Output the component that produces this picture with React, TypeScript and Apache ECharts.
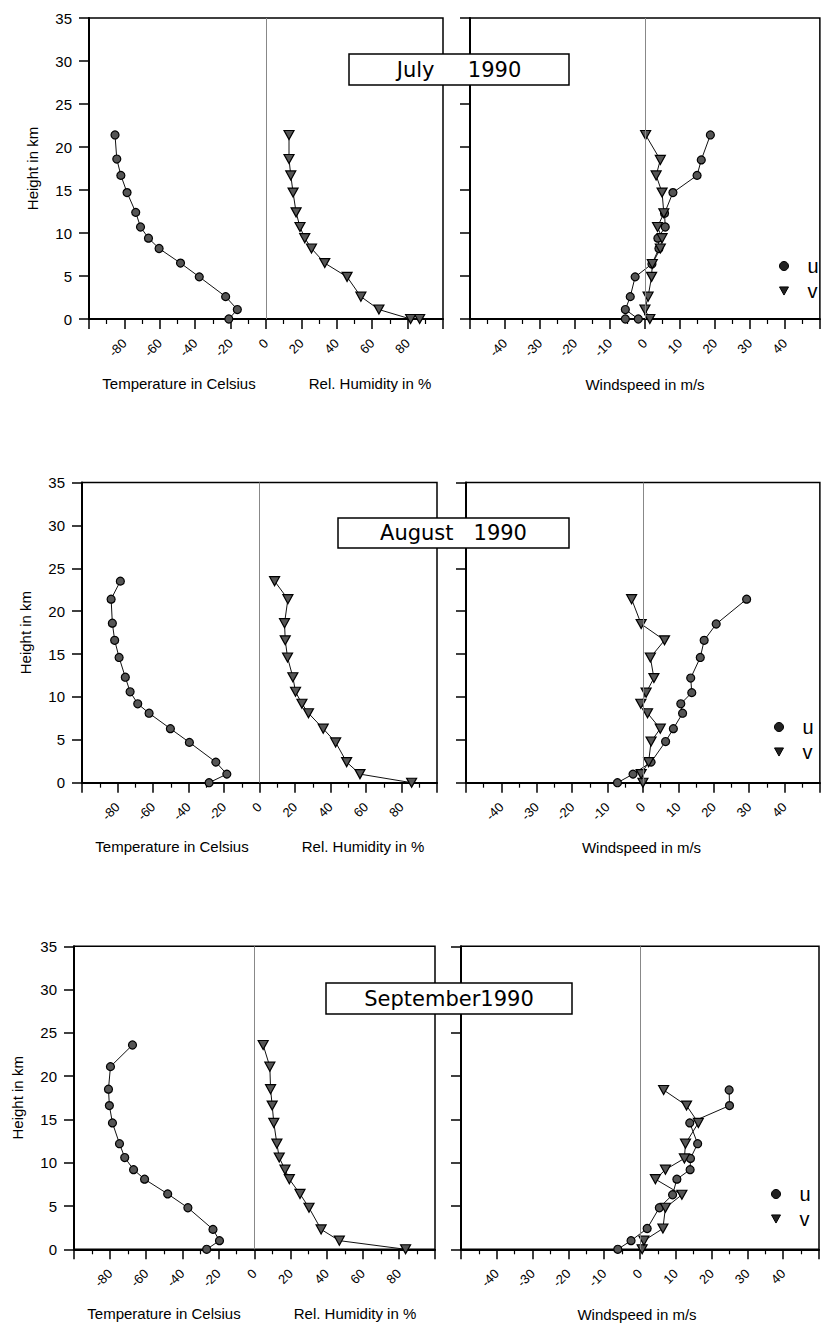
import React, { useEffect, useRef } from "react";
import * as echarts from "echarts";

// ---------- DATA ----------
const monthTitles = ["July     1990", "August   1990", "September1990"];
const tempAxisTitle = "Temperature in Celsius";
const humAxisTitle = "Rel. Humidity in %";
const windAxisTitle = "Windspeed in m/s";
const heightAxisTitle = "Height in km";
const windNames = ["u", "v"];

// July 1990
const julyHeights = [0, 1.1, 2.6, 4.9, 6.5, 8.2, 9.4, 10.7, 12.4, 14.7, 16.7, 18.6, 21.4];
const julyTemp = [-21, -16.2, -22.8, -37.7, -48.3, -60.4, -66.4, -70.9, -73.6, -78.5, -82, -84.3, -85.3];
const julyHumHeights = [0, 0, 1.1, 2.6, 4.9, 6.5, 8.2, 9.4, 10.7, 12.4, 14.7, 16.7, 18.6, 21.4];
const julyHum = [86.8, 81.7, 63.8, 53.6, 45.8, 33.2, 25.7, 21.9, 19.2, 17, 15.3, 14, 13, 13];
const julyUHeights = [0, 0, 1.1, 2.6, 4.9, 6.4, 8.2, 9.4, 10.7, 12.3, 14.7, 16.7, 18.5, 21.4];
const julyU = [-5.6, -1.9, -5.6, -4.2, -2.8, 2.0, 4.0, 3.7, 5.8, 5.6, 8.0, 14.9, 16.1, 18.7];
const julyVHeights = [0, 1.1, 2.6, 4.9, 6.4, 8.2, 9.4, 10.7, 12.3, 14.7, 16.7, 18.5, 21.4];
const julyV = [1.4, 0, 0.9, 1.9, 2.1, 4.4, 4.9, 3.6, 5.4, 4.9, 3.2, 4.4, 0.2];

// August 1990
const augHeights = [0, 1.0, 2.4, 4.7, 6.3, 8.1, 9.2, 10.6, 12.3, 14.6, 16.6, 18.6, 21.4, 23.5];
const augTemp = [-28.4, -18.4, -24.6, -39.5, -50.2, -62.2, -68.6, -72.9, -75.6, -79.1, -81.6, -82.9, -83.6, -78.4];
const augHum = [85.7, 56.6, 49.1, 42.9, 35.9, 27.6, 23.9, 20.3, 18.8, 15.8, 14.5, 14.1, 16, 8.5];
const augWindHeights = [0, 1.0, 2.4, 4.8, 6.3, 8.1, 9.2, 10.5, 12.2, 14.6, 16.6, 18.5, 21.4];
const augU = [-7.2, -2.8, 2.3, 6.4, 8.6, 11.2, 10.7, 13.8, 13.5, 16.2, 17.3, 20.7, 29.3];
const augV = [0, -0.5, 1.6, 2.3, 4.9, 1.3, -0.6, 0.9, 3.1, 2.1, 6.1, -0.5, -3.2];

// September 1990
const sepHeights = [0, 1.0, 2.3, 4.8, 6.4, 8.1, 9.2, 10.6, 12.2, 14.6, 16.6, 18.5, 21.1, 23.6];
const sepTemp = [-26.5, -19.4, -23, -36.9, -48.1, -60.9, -67, -71.9, -74.8, -78.7, -80.4, -80.9, -79.8, -67.6];
const sepHum = [83.7, 47, 36.9, 30.2, 25.2, 19.3, 16.9, 13.7, 12.4, 10.7, 9.8, 8.9, 8.5, 4.8];
const sepWindHeights = [0, 1.0, 2.4, 4.8, 6.3, 8.1, 9.2, 10.5, 12.2, 14.6, 16.6, 18.4];
const sepU = [-6.2, -2.5, 2.0, 5.4, 9.1, 10.3, 14.0, 14.1, 16.1, 13.9, 25.0, 24.9];
const sepV = [0.6, 1.1, 6.4, 7.1, 11.7, 4.3, 7.1, 12.4, 12.7, 16.3, 13.0, 6.6];

// ---------- LAYOUT ----------
const layouts = [
  { top: 18, height: 301, left: [89, 354], right: [470, 356], box: [349, 54, 220, 31], legend: [779, 256] },
  { top: 482.5, height: 300.2, left: [82, 355], right: [466, 357], box: [338, 518, 231, 30], legend: [774, 717] },
  { top: 946.3, height: 303, left: [74, 361], right: [461, 358], box: [326, 983, 246, 31], legend: [771, 1184] },
];

const FONT = '"Liberation Sans", Arial, Helvetica, sans-serif';
const TITLE_FONT = '"DejaVu Sans", "Liberation Sans", sans-serif';
const TRI = "path://M0,0L10,0L5,9Z";

const pairs = (xs: number[], ys: number[]) => xs.map((x, i) => [x, ys[i]]);

const months = [
  {
    temp: pairs(julyTemp, julyHeights),
    hum: pairs(julyHum, julyHumHeights),
    u: pairs(julyU, julyUHeights),
    v: pairs(julyV, julyVHeights),
  },
  {
    temp: pairs(augTemp, augHeights),
    hum: pairs(augHum, augHeights),
    u: pairs(augU, augWindHeights),
    v: pairs(augV, augWindHeights),
  },
  {
    temp: pairs(sepTemp, sepHeights),
    hum: pairs(sepHum, sepHeights),
    u: pairs(sepU, sepWindHeights),
    v: pairs(sepV, sepWindHeights),
  },
];

function buildOption() {
  const grid: any[] = [];
  const xAxis: any[] = [];
  const yAxis: any[] = [];
  const series: any[] = [];
  const legend: any[] = [];
  const graphic: any[] = [];

  const circleStyle = { color: "#555", borderColor: "#000", borderWidth: 1.2 };
  const lineStyle = { color: "#111", width: 1 };
  const zeroLine = {
    silent: true,
    symbol: "none",
    label: { show: false },
    lineStyle: { color: "#888", width: 1, type: "solid" },
    data: [{ xAxis: 0 }],
  };

  layouts.forEach((L, p) => {
    const m = months[p];
    const gL = p * 2;
    const gR = p * 2 + 1;
    grid.push({
      left: L.left[0], top: L.top, width: L.left[1], height: L.height,
      show: true, borderColor: "#000", borderWidth: 1.5,
    });
    grid.push({
      left: L.right[0], top: L.top, width: L.right[1], height: L.height,
      show: true, borderColor: "#000", borderWidth: 1.5,
    });

    const xCommon = (min: number, max: number, interval: number) => ({
      type: "value", min, max, interval,
      axisLine: { show: true, onZero: false, lineStyle: { color: "#000", width: 2 } },
      axisTick: { show: true, length: 10, lineStyle: { color: "#000", width: 1.5 } },
      minorTick: { show: true, splitNumber: 2, length: 5, lineStyle: { color: "#000", width: 1.2 } },
      splitLine: { show: false },
      minorSplitLine: { show: false },
      axisLabel: {
        rotate: 45, margin: 22, fontSize: 13, color: "#000", fontFamily: FONT,
        formatter: (v: number) => (v === min || v === max ? "" : String(v)),
      },
    });
    xAxis.push({ gridIndex: gL, ...xCommon(-100, 100, 20) });
    xAxis.push({ gridIndex: gR, ...xCommon(-50, 50, 10) });

    const yCommon = {
      type: "value", min: 0, max: 35, interval: 5,
      axisLine: { show: true, onZero: false, lineStyle: { color: "#000", width: 2 } },
      axisTick: { show: true, length: 10, lineStyle: { color: "#000", width: 1.5 } },
      splitLine: { show: false },
    };
    yAxis.push({
      gridIndex: gL, ...yCommon,
      axisLabel: { margin: 17, fontSize: 15, color: "#000", fontFamily: FONT },
      name: heightAxisTitle, nameLocation: "middle", nameGap: 49, nameRotate: 90,
      nameTextStyle: { fontSize: 15, color: "#000", fontFamily: FONT },
    });
    yAxis.push({ gridIndex: gR, ...yCommon, axisLabel: { show: false } });

    series.push({
      type: "line", name: "T", xAxisIndex: gL, yAxisIndex: gL, data: m.temp,
      symbol: "circle", symbolSize: 8, itemStyle: circleStyle, lineStyle,
      markLine: zeroLine, z: 3,
    });
    series.push({
      type: "line", name: "RH", xAxisIndex: gL, yAxisIndex: gL, data: m.hum,
      symbol: TRI, symbolSize: [10, 9], itemStyle: circleStyle, lineStyle, z: 3,
    });
    series.push({
      type: "line", name: windNames[0], xAxisIndex: gR, yAxisIndex: gR, data: m.u,
      symbol: "circle", symbolSize: 8, itemStyle: circleStyle, lineStyle,
      markLine: zeroLine, z: 3,
    });
    series.push({
      type: "line", name: windNames[1], xAxisIndex: gR, yAxisIndex: gR, data: m.v,
      symbol: TRI, symbolSize: [10, 9], itemStyle: circleStyle, lineStyle, z: 3,
    });

    legend.push({
      left: L.legend[0], top: L.legend[1], orient: "vertical", padding: 0,
      itemWidth: 9, itemHeight: 9, itemGap: 5, selectedMode: false,
      data: [
        { name: windNames[0], icon: "circle" },
        { name: windNames[1], icon: TRI },
      ],
      itemStyle: { color: "#222", borderColor: "#000", borderWidth: 1 },
      textStyle: { fontSize: 20, lineHeight: 20, color: "#000", fontFamily: FONT, padding: [0, 0, 0, 14] },
    });

    const [bx, by, bw, bh] = L.box;
    graphic.push({
      type: "rect", z: 100, shape: { x: bx, y: by, width: bw, height: bh },
      style: { fill: "#fff", stroke: "#000", lineWidth: 1.5 },
    });
    graphic.push({
      type: "text", z: 101, x: bx + bw / 2, y: by + bh / 2,
      style: {
        text: monthTitles[p], align: "center", verticalAlign: "middle",
        font: `21px ${TITLE_FONT}`, fill: "#000",
      },
    });
    const ty = L.top + L.height + 64;
    graphic.push({
      type: "text", z: 100, x: L.left[0] + 90, y: ty,
      style: { text: tempAxisTitle, align: "center", verticalAlign: "middle", font: `15px ${FONT}`, fill: "#000" },
    });
    graphic.push({
      type: "text", z: 100, x: L.left[0] + 281, y: ty,
      style: { text: humAxisTitle, align: "center", verticalAlign: "middle", font: `15px ${FONT}`, fill: "#000" },
    });
    graphic.push({
      type: "text", z: 100, x: L.right[0] + L.right[1] / 2 - 3, y: ty + 1,
      style: { text: windAxisTitle, align: "center", verticalAlign: "middle", font: `15px ${FONT}`, fill: "#000" },
    });
  });

  return {
    animation: false,
    backgroundColor: "#fff",
    textStyle: { fontFamily: FONT },
    grid, xAxis, yAxis, series, legend, graphic,
  };
}

export default function App() {
  const ref = useRef<HTMLDivElement>(null);
  useEffect(() => {
    if (!ref.current) return;
    const chart = echarts.init(ref.current, undefined, { renderer: "svg" });
    chart.setOption(buildOption() as any);
    return () => chart.dispose();
  }, []);
  return (
    <div
      ref={ref}
      style={{ position: "absolute", left: 0, top: 0, width: 822, height: 1325, background: "#fff" }}
    />
  );
}
